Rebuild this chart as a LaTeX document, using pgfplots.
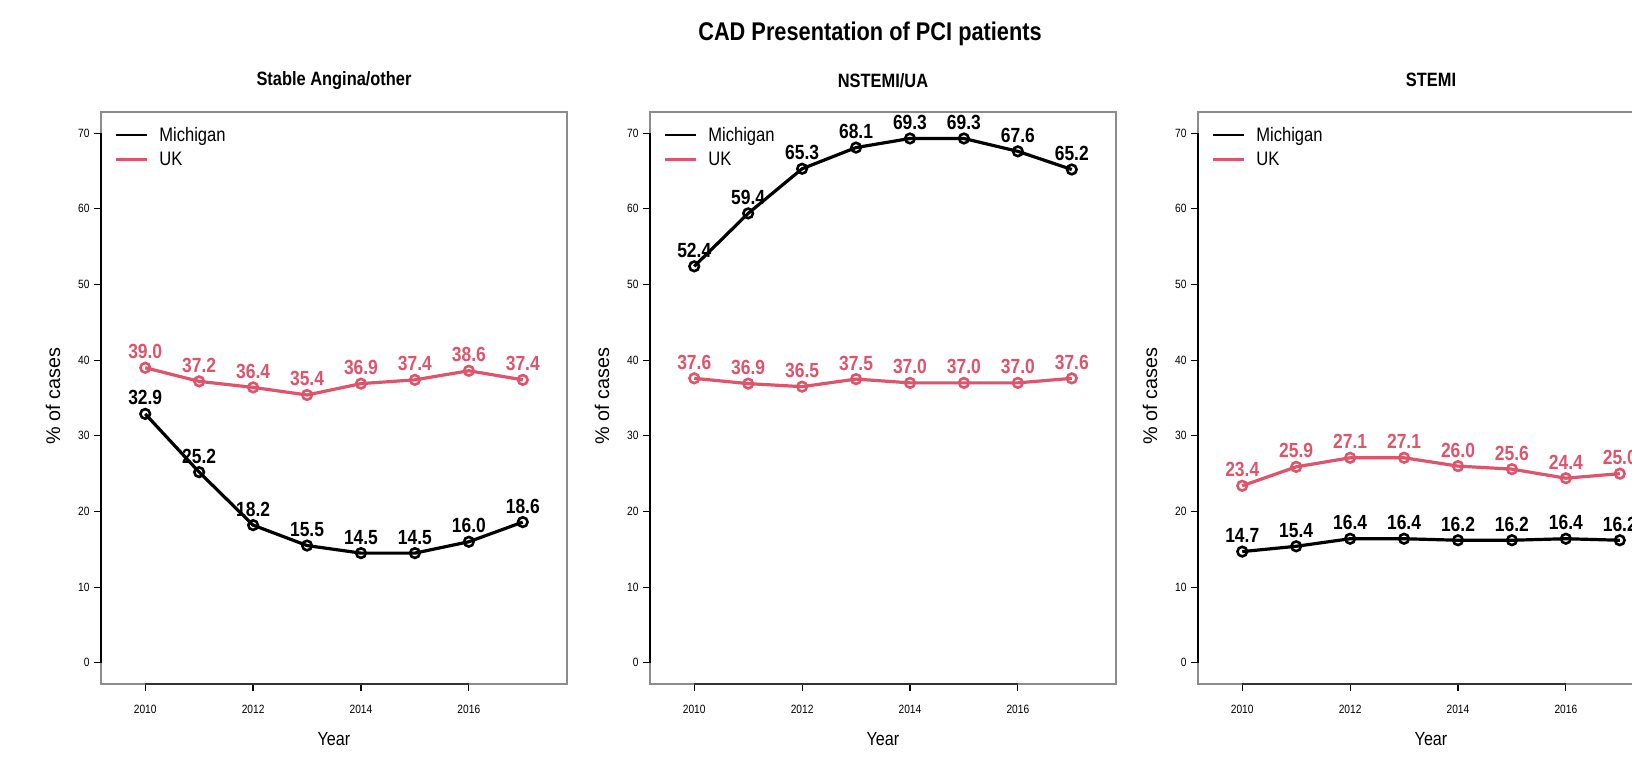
\documentclass[border=0pt]{standalone}
\usepackage{fontspec}
\setmainfont{Liberation Sans}[FakeStretch=0.85]
\newfontfamily\widefont{Liberation Sans}
\usepackage{pgfplots}
\pgfplotsset{compat=1.18}
\definecolor{ukred}{HTML}{DF536B}
\newcommand{\fs}[1]{\fontsize{#1}{#1}\selectfont}
\pgfplotsset{
  panel/.style={
    scale only axis, width=466pt, height=572pt, anchor=south west,
    xmin=2009.18, xmax=2017.82, ymin=-2.8, ymax=72.8,
    xtick={2010,2012,2014,2016}, ytick={0,10,...,70},
    xtick pos=bottom, ytick pos=left,
    tick align=outside, major tick length=7pt,
    tick style={black, line width=1.2pt},
    axis line style={black!45, line width=1.5pt},
    /pgf/number format/1000 sep={}, /pgf/number format/assume math mode=true,
    ticklabel style={font=\fs{12}},
    xticklabel style={yshift=-11pt},
    yticklabel style={xshift=-1pt},
    xlabel={Year}, ylabel={\% of cases},
    every axis x label/.style={at={(axis description cs:0.5,-0.0962)}, anchor=center, font=\fs{19}},
    every axis y label/.style={at={(axis description cs:-0.103,0.503)}, rotate=90, anchor=center, font=\widefont\fs{19.8}},
    title style={font=\bfseries\fs{19.3}, at={(axis description cs:0.5,1.045)}, anchor=center},
    legend style={draw=none, fill=none, at={(axis description cs:0,1)}, anchor=north west,
      xshift=5pt, yshift=-5pt,
      font=\fs{19.5}, row sep=5pt, inner sep=8pt,
      /tikz/every odd column/.append style={column sep=9.5pt}},
    legend cell align=left,
    legend image code/.code={\draw[#1, line width=2.6pt] (0pt,0pt) -- (31pt,0pt);},
    clip=false,
  },
  ser/.style={line width=3.2pt, mark=o, mark size=4.8pt,
    mark options={line width=2.6pt, fill=white, solid},
    nodes near coords={\pgfmathprintnumber[fixed,fixed zerofill,precision=1]{\pgfplotspointmeta}},
    every node near coord/.append style={font=\bfseries\fs{20.5}, anchor=south, yshift=6.5pt, inner sep=1pt},
    forget plot},
  mi/.style={ser, draw=black, every node near coord/.append style={text=black}},
  uk/.style={ser, draw=ukred, every node near coord/.append style={text=ukred}},
}
\newcommand{\axisdecor}{%
  \draw[black, line width=1.5pt] (axis cs:2009.18,0) -- (axis cs:2009.18,70);
  \draw[black!80, line width=1.5pt] (axis cs:2010,-2.8) -- (axis cs:2016,-2.8);
  \addlegendimage{draw=black}\addlegendentry{Michigan}
  \addlegendimage{draw=ukred}\addlegendentry{UK}
}
\begin{document}
\begin{tikzpicture}[x=1pt,y=1pt]
\useasboundingbox (0,0) rectangle (1632,756);
\clip (0,0) rectangle (1632,756);
\node[font=\bfseries\fs{25.6}] at (870,722) {CAD Presentation of PCI patients};

\begin{axis}[panel, at={(101pt,72pt)}, title={Stable Angina/other}]
\axisdecor
\addplot[uk] coordinates {(2010,39.0) (2011,37.2) (2012,36.4) (2013,35.4) (2014,36.9) (2015,37.4) (2016,38.6) (2017,37.4)};
\addplot[mi] coordinates {(2010,32.9) (2011,25.2) (2012,18.2) (2013,15.5) (2014,14.5) (2015,14.5) (2016,16.0) (2017,18.6)};
\end{axis}

\begin{axis}[panel, at={(650pt,72pt)}, title={NSTEMI/UA}]
\axisdecor
\addplot[uk] coordinates {(2010,37.6) (2011,36.9) (2012,36.5) (2013,37.5) (2014,37.0) (2015,37.0) (2016,37.0) (2017,37.6)};
\addplot[mi] coordinates {(2010,52.4) (2011,59.4) (2012,65.3) (2013,68.1) (2014,69.3) (2015,69.3) (2016,67.6) (2017,65.2)};
\end{axis}

\begin{axis}[panel, at={(1198pt,72pt)}, title={STEMI}]
\axisdecor
\addplot[uk] coordinates {(2010,23.4) (2011,25.9) (2012,27.1) (2013,27.1) (2014,26.0) (2015,25.6) (2016,24.4) (2017,25.0)};
\addplot[mi] coordinates {(2010,14.7) (2011,15.4) (2012,16.4) (2013,16.4) (2014,16.2) (2015,16.2) (2016,16.4) (2017,16.2)};
\end{axis}
\end{tikzpicture}
\end{document}
